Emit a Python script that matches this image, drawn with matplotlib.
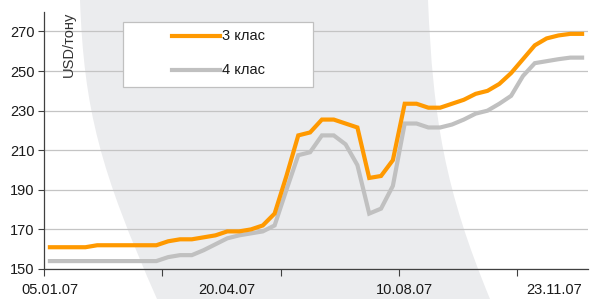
import numpy as np
import matplotlib
matplotlib.use("Agg")
import matplotlib.pyplot as plt
from matplotlib.patches import PathPatch, Rectangle
from matplotlib.path import Path
from matplotlib.lines import Line2D

plt.rcParams['font.family'] = ['Liberation Sans', 'DejaVu Sans']

# weekly prices, USD per tonne
class3 = [161, 161, 161, 161, 162, 162, 162, 162, 162, 162,
          164, 165, 165, 166, 167, 169, 169, 170, 172, 178,
          197, 217.5, 219, 225.5, 225.5, 223.5, 221.5, 196, 197, 205,
          233.5, 233.5, 231.5, 231.5, 233.5, 235.5, 238.5, 240, 243.5, 249,
          256, 263, 266.5, 268, 268.8, 268.8]
class4 = [154, 154, 154, 154, 154, 154, 154, 154, 154, 154,
          156, 157, 157, 159.5, 162.5, 165.5, 167, 168, 169, 172,
          190, 207.5, 209, 217.5, 217.5, 213, 202.5, 178, 180.5, 192,
          223.5, 223.5, 221.5, 221.5, 223, 225.5, 228.5, 230, 233.5, 237.5,
          247.5, 254, 255, 256, 256.8, 256.8]
series_names = ['3 клас', '4 клас']
series_colors = ['#ff9900', '#c0c0c0']
date_labels = ['05.01.07', '20.04.07', '10.08.07', '23.11.07']
date_label_pos = [0, 15, 30, 45]
yticks = [150, 170, 190, 210, 230, 250, 270]

W, H = 606, 299
fig = plt.figure(figsize=(W / 100, H / 100), dpi=100)

# decorative background shape (figure pixels), two bezier edges
bg = fig.add_axes([0, 0, 1, 1], zorder=0)
bg.set_xlim(0, W)
bg.set_ylim(H, 0)
bg.axis('off')
verts = [(80, 0), (84, 110), (100, 170), (157, 299),
         (490, 299),
         (445, 190), (433, 120), (428, 0),
         (80, 0)]
codes = [Path.MOVETO, Path.CURVE4, Path.CURVE4, Path.CURVE4,
         Path.LINETO,
         Path.CURVE4, Path.CURVE4, Path.CURVE4,
         Path.CLOSEPOLY]
bg.add_patch(PathPatch(Path(verts, codes), fc='#ebecee', ec='none'))

ax = fig.add_axes([44 / W, 1 - 269 / H, (588 - 44) / W, (269 - 11.7) / H], zorder=1)
ax.patch.set_alpha(0)

x = np.arange(len(class3))
for vals, c in zip([class4, class3], [series_colors[1], series_colors[0]]):
    ax.plot(x, vals, color=c, lw=3, solid_joinstyle='miter', zorder=3)

ax.set_xlim(-0.5, len(class3) - 0.5)
ax.set_ylim(150, 280)
ax.set_yticks(yticks)
ax.tick_params(axis='y', direction='out', length=4, width=0.8, color='#404040',
               labelsize=10.5, labelcolor='#1a1a1a', pad=3)

ax.set_xticks(np.arange(-0.5, len(class3) - 1, 10))
ax.set_xticklabels([])
ax.set_xticks(date_label_pos, minor=True)
ax.set_xticklabels(date_labels, minor=True)
ax.tick_params(axis='x', which='major', direction='out', length=5, width=0.8, color='#404040')
ax.tick_params(axis='x', which='minor', length=0, labelsize=10.5, labelcolor='#1a1a1a', pad=10)
# last date label sits against the right edge
last = ax.get_xticklabels(minor=True)[-1]
last.set_horizontalalignment('right')
last.set_x(len(class3) - 0.5 + 0.75)

ax.grid(axis='y', color='#c4c4c4', lw=0.9)
ax.set_axisbelow(True)
for s in ['top', 'right']:
    ax.spines[s].set_visible(False)
for s in ['left', 'bottom']:
    ax.spines[s].set_color('#404040')
    ax.spines[s].set_linewidth(0.9)

ax.text(0.045, 1.0, 'USD/тону', transform=ax.transAxes, rotation=90,
        ha='center', va='top', fontsize=10.5, color='#333333')

# legend box drawn in figure pixels
leg = fig.add_axes([0, 0, 1, 1], zorder=2)
leg.set_xlim(0, W)
leg.set_ylim(H, 0)
leg.axis('off')
leg.add_patch(Rectangle((123, 21.7), 190, 65.3, fc='white', ec='#c0c0c0', lw=0.9))
for i, (name, c) in enumerate(zip(series_names, series_colors)):
    yy = 35.7 + i * 34.3
    leg.add_line(Line2D([172, 220], [yy, yy], color=c, lw=3))
    leg.text(222, yy, name, va='center', ha='left', fontsize=10.5, color='#1a1a1a')

fig.savefig('out.png', dpi=100)
